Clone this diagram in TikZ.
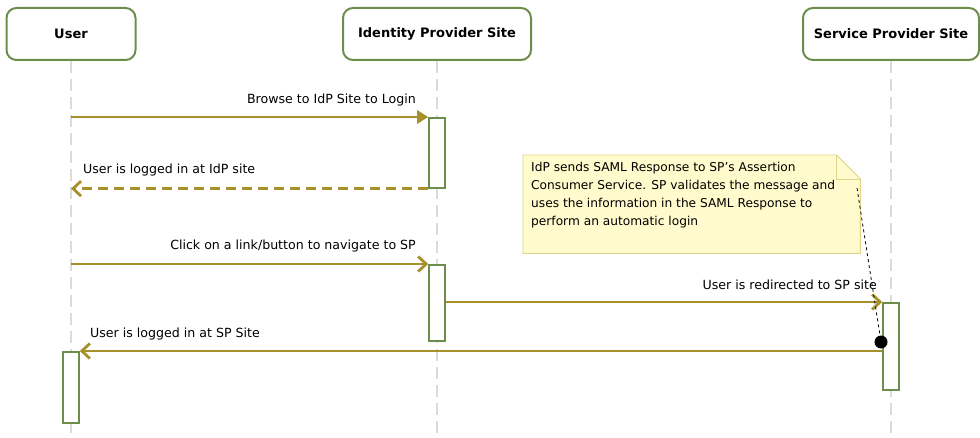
\documentclass[tikz,border=0pt]{standalone}
\usepackage{fontspec}
\setmainfont{DejaVu Sans}
\usetikzlibrary{arrows.meta}
\definecolor{olivemsg}{RGB}{166,144,42}
\definecolor{lifegreen}{RGB}{108,142,74}
\definecolor{notefill}{RGB}{255,251,204}
\definecolor{noteline}{RGB}{222,212,140}

\begin{document}
\begin{tikzpicture}[x=1pt,y=-1pt,
    actor/.style    ={draw=lifegreen, line width=2pt, rounded corners=10pt, fill=white, minimum height=52,
                      font=\bfseries\fontsize{13}{15}\selectfont},
    lifeline/.style ={draw=gray!28, line width=1.5pt, dash pattern=on 12pt off 6pt},
    actbox/.style   ={draw=lifegreen, line width=1.6pt, fill=white, minimum width=16, inner sep=0pt},
    msg/.style      ={draw=olivemsg, line width=2.8pt, -{Straight Barb[length=8pt,width=15pt]}},
    msglabel/.style ={font=\fontsize{12.6}{15}\selectfont, inner sep=0pt}
  ]
    \useasboundingbox (0,0) rectangle (980,438);

    % participants
    \node[actor, minimum width=129] (user) at ( 71, 34) {User};
    \node[actor, minimum width=188] (idp)  at (437, 34) {Identity Provider Site};
    \node[actor, minimum width=176] (sp)   at (891, 34) {Service Provider Site};

    % lifelines
    \coordinate (userend) at ( 71,438);
    \coordinate (idpend)  at (437,438);
    \coordinate (spend)   at (891,438);
    \draw[lifeline] (user.south) -- (userend);
    \draw[lifeline] (idp.south)  -- (idpend);
    \draw[lifeline] (sp.south)   -- (spend);

    % activations
    \node[actbox, minimum height=70, anchor=north] (idpA)  at (437,117) {};
    \node[actbox, minimum height=76, anchor=north] (idpB)  at (437,264) {};
    \node[actbox, minimum height=87, anchor=north] (spA)   at (891,302) {};
    \node[actbox, minimum height=71, anchor=north] (userA) at ( 71,351) {};

    % messages
    \draw[msg, -{Triangle[length=11pt,width=13pt]}] (user |- idpA.north) -- (idpA.north west);
    \draw[msg, dash pattern=on 10pt off 6pt]         (idpA.south west)   -- (user |- idpA.south);
    \draw[msg]                                       (user |- idpB.north) -- (idpB.north west);
    \draw[msg]                                       (idpB.east |- spA.north) -- (spA.north west);
    \draw[msg]                                       (spA.west |- userA.north) -- (userA.north east);

    \node[msglabel, anchor=east] (l1) at (416,100) {Browse to IdP Site to Login};
    \node[msglabel, anchor=west] (l2) at ( 83,170) {User is logged in at IdP site};
    \node[msglabel, anchor=east] (l3) at (416,246) {Click on a link/button to navigate to SP};
    \node[msglabel, anchor=east] (l4) at (877,285) {User is redirected to SP site};
    \node[msglabel, anchor=west] (l5) at ( 90,334) {User is logged in at SP Site};

    % note
    \node[minimum width=337, minimum height=98, inner sep=0pt, anchor=north west] (note) at (523,155) {};
    \filldraw[draw=noteline, fill=notefill, line width=0.9pt]
        (note.north west) -- ([xshift=-24pt]note.north east) -- ([yshift=-24pt]note.north east)
        -- (note.south east) -- (note.south west) -- cycle;
    \draw[noteline, line width=0.9pt] ([xshift=-24pt]note.north east) |- ([yshift=-24pt]note.north east);
    \node[msglabel, anchor=north west, align=left, font=\fontsize{12.2}{18}\selectfont] (notetext) at (531,162)
        {IdP sends SAML Response to SP's Assertion\\
         Consumer Service. SP validates the message and\\
         uses the information in the SAML Response to\\
         perform an automatic login};

    \node[circle, fill=black, minimum size=13, inner sep=0pt] (dot) at (881,342) {};
    \coordinate (notepin) at (857,188);
    \draw[dashed, line width=0.8pt] (notepin) -- (dot);
\end{tikzpicture}
\end{document}
